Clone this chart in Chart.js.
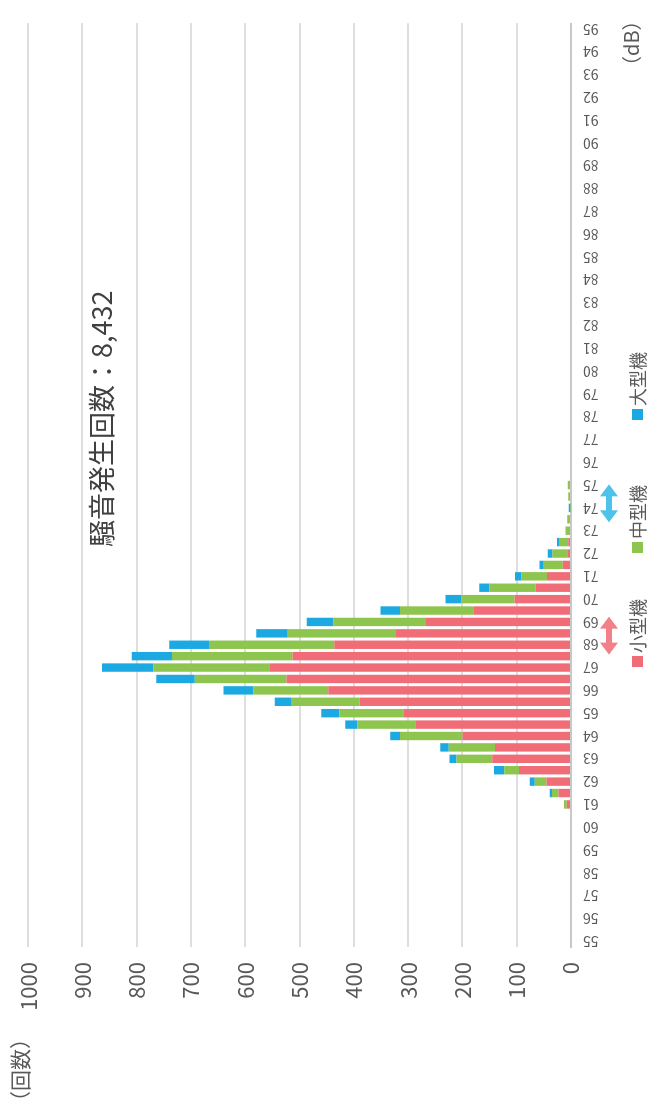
<!DOCTYPE html>
<html lang="ja">
<head>
<meta charset="utf-8">
<title>騒音発生回数</title>
<script src="https://cdn.jsdelivr.net/npm/chart.js@4.4.1/dist/chart.umd.min.js"></script>
<style>
  html, body { margin: 0; padding: 0; background: #fff; overflow: hidden; }
  /* chart is drawn landscape, then turned a quarter counter-clockwise */
  #wrap {
    position: absolute; left: 0; top: 0;
    width: 1118px; height: 656px;
    transform-origin: 0 0;
    transform: translate(0, 1118px) rotate(-90deg);
  }
</style>
</head>
<body>
<div id="wrap"><canvas id="noise-chart" width="1118" height="656"></canvas></div>
<script>
// dB classes, half-dB steps
const dbLabels = [
  '55', '55.5', '56', '56.5', '57', '57.5', '58', '58.5', '59', '59.5',
  '60', '60.5', '61', '61.5', '62', '62.5', '63', '63.5', '64', '64.5',
  '65', '65.5', '66', '66.5', '67', '67.5', '68', '68.5', '69', '69.5',
  '70', '70.5', '71', '71.5', '72', '72.5', '73', '73.5', '74', '74.5',
  '75', '75.5', '76', '76.5', '77', '77.5', '78', '78.5', '79', '79.5',
  '80', '80.5', '81', '81.5', '82', '82.5', '83', '83.5', '84', '84.5',
  '85', '85.5', '86', '86.5', '87', '87.5', '88', '88.5', '89', '89.5',
  '90', '90.5', '91', '91.5', '92', '92.5', '93', '93.5', '94', '94.5',
  '95'
];

const smallPlane = [
  0, 0, 0, 0, 0, 0, 0, 0, 0, 0,
  0, 0, 8, 23, 45, 96, 145, 140, 200, 287,
  309, 389, 447, 524, 556, 513, 436, 324, 267, 180,
  104, 65, 44, 15, 7, 5, 0, 0, 0, 0,
  0, 0, 0, 0, 0, 0, 0, 0, 0, 0,
  0, 0, 0, 0, 0, 0, 0, 0, 0, 0,
  0, 0, 0, 0, 0, 0, 0, 0, 0, 0,
  0, 0, 0, 0, 0, 0, 0, 0, 0, 0,
  0
];

const midPlane = [
  0, 0, 0, 0, 0, 0, 0, 0, 0, 0,
  0, 0, 5, 12, 22, 27, 66, 85, 115, 107,
  118, 127, 138, 169, 213, 222, 231, 198, 171, 135,
  98, 85, 47, 35, 27, 17, 10, 7, 1, 5,
  6, 0, 0, 0, 0, 0, 0, 0, 0, 0,
  0, 0, 0, 0, 0, 0, 0, 0, 0, 0,
  0, 0, 0, 0, 0, 0, 0, 0, 0, 0,
  0, 0, 0, 0, 0, 0, 0, 0, 0, 0,
  0
];

const largePlane = [
  0, 0, 0, 0, 0, 0, 0, 0, 0, 0,
  0, 0, 0, 4, 9, 19, 13, 16, 18, 22,
  33, 30, 55, 71, 95, 74, 73, 58, 49, 36,
  29, 19, 12, 8, 9, 4, 0, 0, 3, 0,
  0, 0, 0, 0, 0, 0, 0, 0, 0, 0,
  0, 0, 0, 0, 0, 0, 0, 0, 0, 0,
  0, 0, 0, 0, 0, 0, 0, 0, 0, 0,
  0, 0, 0, 0, 0, 0, 0, 0, 0, 0,
  0
];

const countTicks = [0, 100, 200, 300, 400, 500, 600, 700, 800, 900, 1000];
const seriesNames = ['小型機', '中型機', '大型機'];
const seriesColors = ['#F06D78', '#8DC54F', '#1CA9E2'];
const totalText = '騒音発生回数：8,432';

const GREY = '#595959';
const CJK = "'Noto Sans CJK JP', 'Noto Sans', sans-serif";

function drawDoubleArrow(ctx, cx, cy, len, color) {
  const half = len / 2, head = 12, hw = 9, sw = 3;
  ctx.beginPath();
  ctx.moveTo(cx - half, cy);
  ctx.lineTo(cx - half + head, cy - hw);
  ctx.lineTo(cx - half + head, cy - sw);
  ctx.lineTo(cx + half - head, cy - sw);
  ctx.lineTo(cx + half - head, cy - hw);
  ctx.lineTo(cx + half, cy);
  ctx.lineTo(cx + half - head, cy + hw);
  ctx.lineTo(cx + half - head, cy + sw);
  ctx.lineTo(cx - half + head, cy + sw);
  ctx.lineTo(cx - half + head, cy + hw);
  ctx.closePath();
  ctx.fillStyle = color;
  ctx.fill();
}

// notes, arrows and legend drawn on top
const noteLayer = {
  id: 'noteLayer',
  afterDraw(chart) {
    const { ctx, scales: { x } } = chart;
    const dbPx = (db) => x.getPixelForValue((db - 55) * 2);
    ctx.save();
    ctx.textBaseline = 'middle';

    ctx.font = '27px ' + CJK;
    ctx.fillStyle = '#404040';
    ctx.textAlign = 'left';
    ctx.fillText(totalText, 571, 102);

    ctx.font = '21px ' + CJK;
    ctx.fillStyle = GREY;
    ctx.textAlign = 'right';
    ctx.fillText('（回数）', 90, 20);
    ctx.font = '20px ' + CJK;
    ctx.textAlign = 'left';
    ctx.fillText('（dB）', 1042, 631);

    drawDoubleArrow(ctx, dbPx(68.4), 609, 38, '#F28088');
    drawDoubleArrow(ctx, dbPx(74.2), 609, 38, '#4DC3EB');

    const starts = [451, 565, 698];
    ctx.font = '18px ' + CJK;
    seriesNames.forEach((name, i) => {
      ctx.fillStyle = seriesColors[i];
      ctx.fillRect(starts[i], 632, 11, 11);
      ctx.fillStyle = GREY;
      ctx.fillText(name, starts[i] + 14, 638);
    });
    ctx.restore();
  }
};

Chart.defaults.font.family = CJK;
Chart.defaults.color = GREY;

new Chart(document.getElementById('noise-chart'), {
  type: 'bar',
  data: {
    labels: dbLabels,
    datasets: [
      { label: seriesNames[0], data: smallPlane, backgroundColor: seriesColors[0] },
      { label: seriesNames[1], data: midPlane, backgroundColor: seriesColors[1] },
      { label: seriesNames[2], data: largePlane, backgroundColor: seriesColors[2] },
    ],
  },
  options: {
    responsive: false,
    animation: false,
    layout: { padding: { top: 19, right: 9, left: 0, bottom: 0 } },
    datasets: { bar: { categoryPercentage: 0.82, barPercentage: 0.9 } },
    plugins: { legend: { display: false }, tooltip: { enabled: false } },
    scales: {
      x: {
        stacked: true,
        grid: { display: false, drawTicks: false },
        border: { display: true, color: '#C8C8C8', width: 2 },
        ticks: {
          autoSkip: false,
          minRotation: 90,
          maxRotation: 90,
          padding: 12,
          font: { size: 14 },
          color: GREY,
          callback: function (v) {
            const l = this.getLabelForValue(v);
            return l.indexOf('.') < 0 ? l : '';
          },
        },
        afterFit: (scale) => { scale.height = 85; },
      },
      y: {
        stacked: true,
        min: countTicks[0],
        max: countTicks[countTicks.length - 1],
        grid: { color: '#DEDEDE', lineWidth: 2, drawTicks: false },
        border: { display: false },
        afterBuildTicks: (scale) => { scale.ticks = countTicks.map((v) => ({ value: v })); },
        ticks: {
          padding: 15,
          font: { size: 22 },
          color: GREY,
          callback: (v) => String(v),
        },
        afterFit: (scale) => { scale.width = 171; },
      },
    },
  },
  plugins: [noteLayer],
});
</script>
</body>
</html>
